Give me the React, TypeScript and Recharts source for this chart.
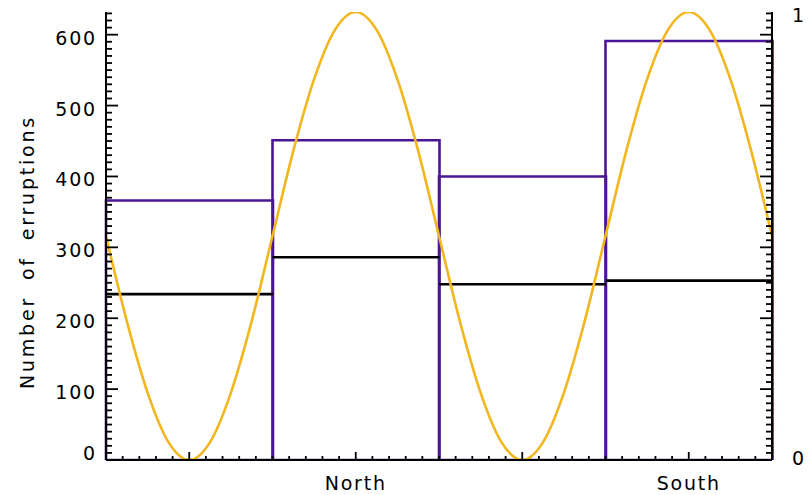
import React from 'react';
import { ComposedChart, Bar, Line, XAxis, YAxis, Label } from 'recharts';

// histogram bins: two per hemisphere
const binCentres = [0.5, 1.5, 2.5, 3.5];
const allEruptions = [366, 451, 400, 591];
const selectedEruptions = [234, 286, 248, 253];

// yellow cycle curve, sampled every 1/8 of a bin
const cycleX = [
    0, 0.125, 0.25, 0.375, 0.5, 0.625, 0.75, 0.875, 1, 1.125, 1.25, 1.375, 1.5, 1.625, 1.75, 1.875,
    2, 2.125, 2.25, 2.375, 2.5, 2.625, 2.75, 2.875, 3, 3.125, 3.25, 3.375, 3.5, 3.625, 3.75, 3.875, 4,
];
const cycleY = [
    0.5, 0.31, 0.15, 0.04, 0, 0.04, 0.15, 0.31, 0.5, 0.69, 0.85, 0.96, 1, 0.96, 0.85, 0.69,
    0.5, 0.31, 0.15, 0.04, 0, 0.04, 0.15, 0.31, 0.5, 0.69, 0.85, 0.96, 1, 0.96, 0.85, 0.69, 0.5,
];

const xLabels: Record<string, string> = { '1.5': 'North', '3.5': 'South' };
const yMax = 632;

const binData = binCentres.map((x, i) => ({ x, all: allEruptions[i], sel: selectedEruptions[i] }));
const cycleData = cycleX.map((x, i) => ({ x, v: cycleY[i] }));

const xTicks = Array.from({ length: 41 }, (_, i) => i / 10);
const yTicks = Array.from({ length: 64 }, (_, i) => i * 10);
// right axis is 0..1, ticks mirror the left ones
const rightTicks = [...yTicks.map((v) => v / yMax), 1];

const PURPLE = '#4b1596';
const YELLOW = '#f2b61f';
const FONT = '"DejaVu Sans", sans-serif';

const textStyle = { fontFamily: FONT, fontSize: 19, letterSpacing: 1.8, fill: '#000' };

function LeftTick(props: any) {
    const { x, y, payload } = props;
    const v = payload.value;
    const major = v % 100 === 0;
    return (
        <g>
            <line x1={x} x2={x + (major ? 12 : 6)} y1={y} y2={y} stroke="#000" strokeWidth={1.8} />
            {major && (
                <text x={x - 9} y={y + (v === 0 ? -7 : 3)} textAnchor="end" dominantBaseline="central" style={textStyle}>
                    {v}
                </text>
            )}
        </g>
    );
}

function RightTick(props: any) {
    const { x, y, payload } = props;
    const f = payload.value;
    if (f === 1) {
        return (
            <text x={x + 20} y={y + 3} textAnchor="start" dominantBaseline="central" style={textStyle}>1</text>
        );
    }
    const v = Math.round(f * yMax);
    const major = v % 100 === 0;
    return (
        <g>
            <line x1={x} x2={x - (major ? 12 : 6)} y1={y} y2={y} stroke="#000" strokeWidth={1.8} />
            {v === 0 && (
                <text x={x + 20} y={y - 2} textAnchor="start" dominantBaseline="central" style={textStyle}>0</text>
            )}
        </g>
    );
}

function BottomTick(props: any) {
    const { x, y, payload } = props;
    const v = payload.value;
    const major = Math.round(v * 10) % 10 === 5;
    const label = xLabels[String(v)];
    return (
        <g>
            <line x1={x} x2={x} y1={y} y2={y - (major ? 8 : 4)} stroke="#000" strokeWidth={1.8} />
            {label && (
                <text x={x} y={y + 23} textAnchor="middle" dominantBaseline="central" style={textStyle}>
                    {label}
                </text>
            )}
        </g>
    );
}

function TopTick(props: any) {
    const { x, y, payload } = props;
    const major = Math.round(payload.value * 10) % 10 === 5;
    return <line x1={x} x2={x} y1={y} y2={y + (major ? 8 : 4)} stroke="#000" strokeWidth={1.8} />;
}

function LevelLine(props: any) {
    const { x, y, width } = props;
    return <line x1={x} x2={x + width} y1={y} y2={y} stroke="#000" strokeWidth={2.6} />;
}

const axisLine = { stroke: '#000', strokeWidth: 2 };

export default function App() {
    return (
        <div style={{ position: 'absolute', left: 0, top: 0, background: '#fff' }}>
            <ComposedChart
                width={809}
                height={495}
                data={binData}
                margin={{ top: 12, right: 0, left: 0, bottom: 0 }}
                barCategoryGap={0}
                barGap={0}
            >
                <XAxis
                    xAxisId="bottom"
                    dataKey="x"
                    type="number"
                    domain={[0, 4]}
                    ticks={xTicks}
                    interval={0}
                    height={35}
                    tickSize={0}
                    tickMargin={0}
                    tickLine={false}
                    axisLine={axisLine}
                    tick={<BottomTick />}
                />
                <XAxis
                    xAxisId="top"
                    orientation="top"
                    dataKey="x"
                    type="number"
                    domain={[0, 4]}
                    ticks={xTicks}
                    interval={0}
                    height={0}
                    tickSize={0}
                    tickMargin={0}
                    tickLine={false}
                    axisLine={axisLine}
                    tick={<TopTick />}
                />
                <XAxis xAxisId="level" dataKey="x" type="number" domain={[0, 4]} hide />
                <YAxis
                    yAxisId="left"
                    type="number"
                    domain={[0, yMax]}
                    ticks={yTicks}
                    interval={0}
                    width={106}
                    tickSize={0}
                    tickMargin={0}
                    tickLine={false}
                    axisLine={axisLine}
                    tick={<LeftTick />}
                    allowDataOverflow
                >
                    <Label
                        content={() => (
                            <text
                                transform="translate(34,252) rotate(-90)"
                                textAnchor="middle"
                                style={{ fontFamily: FONT, fontSize: 19, letterSpacing: 2.8, wordSpacing: 7, fill: '#000' }}
                            >
                                Number of erruptions
                            </text>
                        )}
                    />
                </YAxis>
                <YAxis
                    yAxisId="right"
                    orientation="right"
                    type="number"
                    domain={[0, 1]}
                    ticks={rightTicks}
                    interval={0}
                    width={37}
                    tickSize={0}
                    tickMargin={0}
                    tickLine={false}
                    axisLine={axisLine}
                    tick={<RightTick />}
                    allowDataOverflow
                />
                <Bar
                    xAxisId="bottom"
                    yAxisId="left"
                    dataKey="all"
                    fill="none"
                    stroke={PURPLE}
                    strokeWidth={2.6}
                    isAnimationActive={false}
                />
                <Bar
                    xAxisId="level"
                    yAxisId="left"
                    dataKey="sel"
                    shape={<LevelLine />}
                    isAnimationActive={false}
                />
                <Line
                    xAxisId="top"
                    yAxisId="right"
                    data={cycleData}
                    dataKey="v"
                    type="monotone"
                    stroke={YELLOW}
                    strokeWidth={2.6}
                    dot={false}
                    isAnimationActive={false}
                />
            </ComposedChart>
        </div>
    );
}
